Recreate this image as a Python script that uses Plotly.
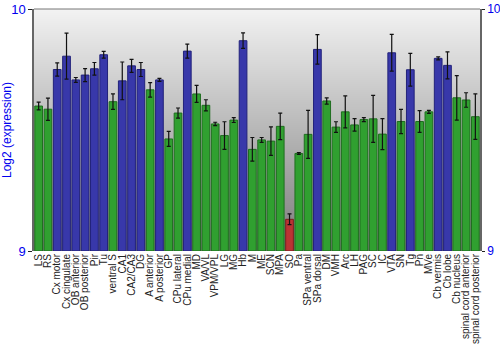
import plotly.graph_objects as go

regions = ["LS", "RS", "Cx motor", "Cx cingulate", "OB anterior", "OB posterior", "Pir", "Tu",
           "ventral S", "CA1", "CA2/CA3", "DG", "A anterior", "A posterior", "GP", "CPu lateral",
           "CPu medial", "MD", "VA/VL", "VPM/VPL", "LG", "MG", "Hb", "M", "ME", "SCN", "MPA", "SO",
           "Pa", "SPa ventral", "SPa dorsal", "DM", "VMH", "Arc", "LH", "PAG", "SC", "IC", "VTA",
           "SN", "Tg", "Pn", "MVe", "Cb vermis", "Cb lobe", "Cb nucleus", "spinal cord anterior",
           "spinal cord posterior"]

values = [9.599, 9.586, 9.750, 9.805, 9.707, 9.727, 9.753, 9.811,
          9.617, 9.703, 9.765, 9.750, 9.666, 9.707, 9.463, 9.570,
          9.826, 9.649, 9.602, 9.525, 9.477, 9.541, 9.869, 9.420, 9.459, 9.454, 9.515, 9.131,
          9.403, 9.482, 9.833, 9.620, 9.512, 9.575, 9.521, 9.543, 9.546, 9.483, 9.819,
          9.535, 9.749, 9.535, 9.575, 9.796, 9.767, 9.633, 9.624,
          9.555]

errors = [0.016, 0.046, 0.027, 0.095, 0.010, 0.027, 0.026, 0.014,
          0.032, 0.078, 0.027, 0.029, 0.030, 0.006, 0.031, 0.021,
          0.029, 0.035, 0.023, 0.007, 0.057, 0.010, 0.032, 0.049, 0.010, 0.059, 0.055, 0.022,
          0.004, 0.099, 0.061, 0.013, 0.022, 0.066, 0.026, 0.008, 0.097, 0.064, 0.076,
          0.050, 0.068, 0.045, 0.006, 0.006, 0.056, 0.092, 0.030,
          0.094]

# g = green, b = blue, r = red
groups = ["g", "g", "b", "b", "b", "b", "b", "b",
          "g", "b", "b", "b", "g", "b", "g", "g",
          "b", "g", "g", "g", "g", "g", "b", "g", "g", "g", "g", "r",
          "g", "g", "b", "g", "g", "g", "g", "g", "g", "g", "b",
          "g", "b", "g", "g", "b", "b", "g", "g",
          "g"]

fill = {"g": "#30a030", "b": "#3838aa", "r": "#bb3434"}
edge = {"g": "#1f6e1f", "b": "#22227a", "r": "#7a1f1f"}

fig = go.Figure()

fig.add_trace(go.Bar(
    x=regions, y=[v - 9 for v in values], base=9,
    marker=dict(color=[fill[g] for g in groups],
                line=dict(color=[edge[g] for g in groups], width=1)),
    error_y=dict(type="data", array=errors, color="#111111", thickness=1.2, width=2),
    hoverinfo="x+y", showlegend=False,
))

# invisible trace to drive right axis
fig.add_trace(go.Scatter(x=[regions[0]], y=[9], yaxis="y2", mode="lines",
                         line=dict(width=0), showlegend=False, hoverinfo="skip"))

# gradient background
n = 242
shapes = []
top = (242, 242, 242)
bot = (124, 124, 124)
for i in range(n):
    t = i / (n - 1)
    c = tuple(int(round(top[k] + (bot[k] - top[k]) * t)) for k in range(3))
    shapes.append(dict(type="rect", xref="paper", yref="paper",
                       x0=0, x1=1, y0=1 - (i + 1.05) / n, y1=1 - i / n,
                       fillcolor="rgb(%d,%d,%d)" % c, line=dict(width=0), layer="below"))
shapes.append(dict(type="line", xref="paper", yref="paper", x0=0, x1=1, y0=1, y1=1,
                   line=dict(color="#777777", width=1)))

fig.update_layout(
    width=500, height=350,
    margin=dict(l=34, r=20, t=9, b=99),
    paper_bgcolor="white", plot_bgcolor="rgba(0,0,0,0)",
    bargap=0.17,
    shapes=shapes,
    font=dict(family="Liberation Sans, Arial, sans-serif"),
    xaxis=dict(tickangle=-90, tickfont=dict(size=10, color="#222222"),
               tickmode="array", tickvals=regions, ticktext=regions,
               range=[-0.5, len(regions) - 0.5],
               showline=False, ticks="", showgrid=False, automargin=False),
    yaxis=dict(range=[9, 10], tickvals=[9, 10], ticktext=["9", "10"],
               tickfont=dict(size=13, color="#0000ee"), ticks="outside", ticklen=4,
               tickcolor="#222222", showline=True, linecolor="#666666", linewidth=1.5,
               showgrid=False, zeroline=False,
               title=dict(text="Log2 (expression)", font=dict(size=12, color="#0000ee"), standoff=6),
               automargin=False),
    yaxis2=dict(range=[9, 10], tickvals=[9, 10], ticktext=["9", "10"], overlaying="y", side="right",
                tickfont=dict(size=12, color="#0000ee"), ticks="outside", ticklen=3,
                tickcolor="#222222", showline=True, linecolor="#666666", linewidth=1.5,
                showgrid=False, zeroline=False, automargin=False),
)

fig.write_html("out.html")
